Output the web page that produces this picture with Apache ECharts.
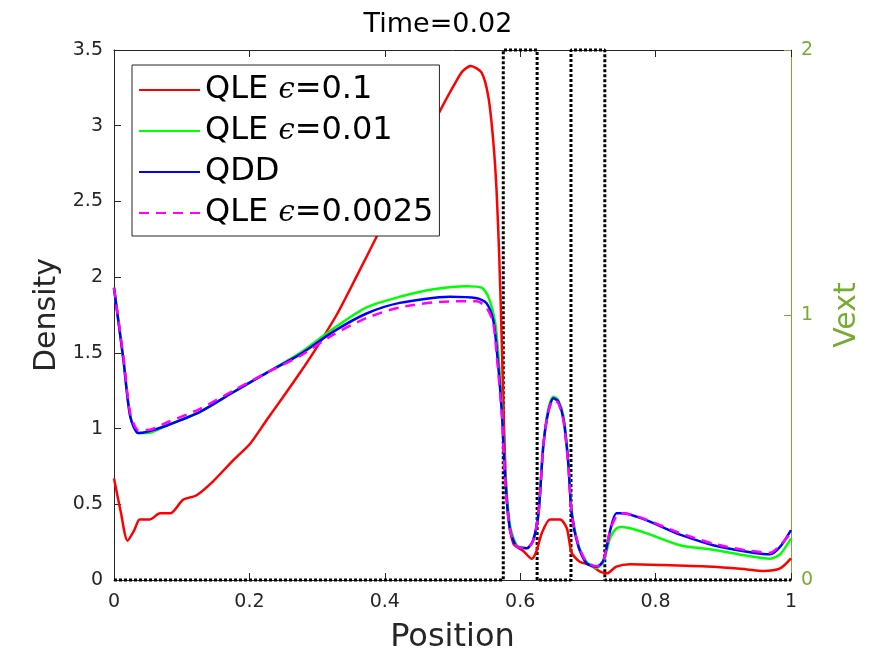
<!DOCTYPE html>
<html>
<head>
<meta charset="utf-8">
<script src="https://cdn.jsdelivr.net/npm/echarts@6/dist/echarts.min.js"></script>
<style>
html, body { margin: 0; padding: 0; background: #fff; }
#chart { width: 875px; height: 656px; }
</style>
</head>
<body>
<div id="chart"></div>
<script>
// QLE eps=0.1
var xRed = [0, 0.01, 0.02, 0.03, 0.038, 0.053, 0.068, 0.083, 0.102, 0.122, 0.146, 0.176, 0.201, 0.226, 0.25, 0.275, 0.3, 0.33, 0.36, 0.386, 0.42, 0.45, 0.47, 0.49, 0.505, 0.515, 0.527, 0.543, 0.553, 0.56, 0.565, 0.569, 0.572, 0.575, 0.578, 0.582, 0.59, 0.605, 0.617, 0.624, 0.632, 0.644, 0.659, 0.669, 0.676, 0.688, 0.703, 0.718, 0.728, 0.742, 0.762, 0.811, 0.885, 0.935, 0.959, 0.984, 1.0];
var yRed = [0.67, 0.45, 0.26, 0.33, 0.40, 0.40, 0.44, 0.44, 0.53, 0.56, 0.65, 0.79, 0.90, 1.06, 1.21, 1.37, 1.54, 1.76, 2.02, 2.25, 2.56, 2.83, 3.0, 3.17, 3.29, 3.36, 3.395, 3.35, 3.19, 2.91, 2.58, 2.14, 1.70, 1.2, 0.75, 0.44, 0.24, 0.19, 0.14, 0.19, 0.31, 0.40, 0.40, 0.34, 0.18, 0.12, 0.10, 0.055, 0.044, 0.088, 0.104, 0.099, 0.088, 0.07, 0.06, 0.077, 0.143];

// QLE eps=0.01
var xGreen = [0, 0.014, 0.024, 0.036, 0.05, 0.078, 0.127, 0.176, 0.226, 0.275, 0.324, 0.373, 0.422, 0.472, 0.521, 0.543, 0.553, 0.563, 0.568, 0.573, 0.578, 0.585, 0.595, 0.61, 0.619, 0.627, 0.634, 0.641, 0.649, 0.656, 0.664, 0.671, 0.676, 0.686, 0.698, 0.713, 0.723, 0.733, 0.742, 0.75, 0.836, 0.885, 0.935, 0.969, 0.984, 1.0];
var yGreen = [1.93, 1.45, 1.08, 0.97, 0.97, 1.02, 1.11, 1.24, 1.37, 1.50, 1.66, 1.80, 1.87, 1.92, 1.94, 1.93, 1.87, 1.70, 1.47, 1.15, 0.70, 0.36, 0.23, 0.21, 0.26, 0.44, 0.88, 1.12, 1.21, 1.19, 1.08, 0.79, 0.46, 0.23, 0.12, 0.08, 0.12, 0.28, 0.34, 0.35, 0.23, 0.20, 0.16, 0.14, 0.17, 0.275];

// QDD
var xBlue = [0, 0.014, 0.024, 0.036, 0.05, 0.078, 0.127, 0.176, 0.226, 0.275, 0.324, 0.373, 0.422, 0.496, 0.536, 0.55, 0.56, 0.565, 0.573, 0.578, 0.585, 0.595, 0.61, 0.619, 0.627, 0.634, 0.641, 0.649, 0.656, 0.664, 0.671, 0.676, 0.686, 0.698, 0.713, 0.723, 0.733, 0.742, 0.75, 0.836, 0.885, 0.935, 0.969, 0.984, 1.0];
var yBlue = [1.93, 1.45, 1.08, 0.97, 0.98, 1.02, 1.11, 1.24, 1.37, 1.49, 1.64, 1.76, 1.83, 1.87, 1.86, 1.83, 1.72, 1.54, 1.10, 0.66, 0.33, 0.22, 0.21, 0.26, 0.44, 0.88, 1.10, 1.20, 1.18, 1.06, 0.77, 0.44, 0.22, 0.11, 0.088, 0.13, 0.33, 0.44, 0.44, 0.30, 0.23, 0.187, 0.17, 0.22, 0.33];

// QLE eps=0.0025 (same x grid as QDD)
var yMagenta = [1.93, 1.47, 1.10, 0.99, 0.99, 1.04, 1.13, 1.25, 1.37, 1.48, 1.62, 1.73, 1.80, 1.84, 1.84, 1.80, 1.70, 1.50, 1.08, 0.64, 0.33, 0.22, 0.21, 0.26, 0.44, 0.88, 1.10, 1.19, 1.17, 1.05, 0.76, 0.44, 0.23, 0.12, 0.09, 0.13, 0.33, 0.42, 0.44, 0.31, 0.24, 0.195, 0.18, 0.23, 0.31];

// Vext (right axis)
var xVext = [0, 0.575, 0.575, 0.625, 0.625, 0.675, 0.675, 0.725, 0.725, 1.0];
var yVext = [0, 0, 2, 2, 0, 0, 2, 2, 0, 0];

var names = ['QLE ϵ=0.1', 'QLE ϵ=0.01', 'QDD', 'QLE ϵ=0.0025'];

function pairs(xs, ys) {
    var out = [];
    for (var i = 0; i < xs.length; i++) { out.push([xs[i], ys[i]]); }
    return out;
}

var font = 'DejaVu Sans';
var vextColor = '#77AC30';
var axisColor = '#262626';

var chart = echarts.init(document.getElementById('chart'));

function curve(name, data, color, z, dash) {
    return {
        name: name,
        type: 'line',
        data: data,
        symbol: 'none',
        smooth: 0.25,
        itemStyle: { color: color },
        lineStyle: { color: color, width: 2.5, type: dash || 'solid' },
        z: z
    };
}

var option = {
    backgroundColor: '#fff',
    animation: false,
    title: {
        text: 'Time=0.02',
        left: 433,
        textAlign: 'center',
        top: 6,
        textStyle: { fontFamily: font, fontSize: 27, fontWeight: 'normal', color: '#000' }
    },
    legend: {
        orient: 'vertical',
        left: 132,
        top: 65,
        data: names,
        backgroundColor: '#fff',
        borderColor: axisColor,
        borderWidth: 1,
        borderRadius: 0,
        padding: [7, 6, 5, 6],
        itemGap: 5,
        itemWidth: 61,
        itemHeight: 14,
        itemStyle: { opacity: 0 },
        formatter: function(name) {
            return name.replace('ϵ', '{e|ϵ}');
        },
        textStyle: {
            fontFamily: font, fontSize: 32, color: '#000', lineHeight: 36,
            rich: {
                e: { fontFamily: 'DejaVu Serif', fontStyle: 'italic', fontSize: 29, color: '#000', lineHeight: 36 }
            }
        }
    },
    grid: { left: 114, right: 84, top: 50, bottom: 76, outerBoundsMode: 'none', containLabel: false },
    xAxis: [{
        type: 'value',
        min: 0, max: 1, interval: 0.2,
        name: 'Position',
        nameLocation: 'middle',
        nameGap: 42,
        nameTextStyle: { fontFamily: font, fontSize: 32, color: axisColor },
        axisLine: { show: true, onZero: false, lineStyle: { color: axisColor, width: 1 } },
        axisTick: { show: true, inside: true, length: 7, lineStyle: { color: axisColor } },
        axisLabel: { fontFamily: font, fontSize: 19, color: axisColor, margin: 13 },
        splitLine: { show: false }
    }, {
        type: 'value',
        position: 'top',
        min: 0, max: 1, interval: 0.2,
        axisLine: { show: true, onZero: false, lineStyle: { color: axisColor, width: 1 } },
        axisTick: { show: true, inside: true, length: 7, lineStyle: { color: axisColor } },
        axisLabel: { show: false },
        splitLine: { show: false }
    }],
    yAxis: [{
        type: 'value',
        position: 'left',
        min: 0, max: 3.5, interval: 0.5,
        name: 'Density',
        nameLocation: 'middle',
        nameGap: 50,
        nameTextStyle: { fontFamily: font, fontSize: 30, color: axisColor },
        axisLine: { show: true, onZero: false, lineStyle: { color: axisColor, width: 1 } },
        axisTick: { show: true, inside: true, length: 7, lineStyle: { color: axisColor } },
        axisLabel: { fontFamily: font, fontSize: 19, color: axisColor, margin: 11 },
        splitLine: { show: false }
    }, {
        type: 'value',
        position: 'right',
        min: 0, max: 2, interval: 1,
        name: 'Vext',
        nameLocation: 'middle',
        nameGap: 41,
        nameRotate: 90,
        nameTextStyle: { fontFamily: font, fontSize: 30, color: vextColor },
        axisLine: { show: true, onZero: false, lineStyle: { color: vextColor, width: 1 } },
        axisTick: { show: true, inside: true, length: 7, lineStyle: { color: vextColor } },
        axisLabel: { fontFamily: font, fontSize: 19, color: vextColor, margin: 10 },
        splitLine: { show: false }
    }],
    series: [{
        name: 'Vext',
        type: 'line',
        yAxisIndex: 1,
        data: pairs(xVext, yVext),
        symbol: 'none',
        clip: false,
        lineStyle: { color: '#000', width: 3, type: [3, 2] },
        z: 1
    },
        curve(names[0], pairs(xRed, yRed), '#ff0000', 2),
        curve(names[1], pairs(xGreen, yGreen), '#00ff00', 3),
        curve(names[2], pairs(xBlue, yBlue), '#0000ff', 4),
        curve(names[3], pairs(xBlue, yMagenta), '#ff00ff', 5, [10, 7])
    ]
};

chart.setOption(option);
</script>
</body>
</html>
